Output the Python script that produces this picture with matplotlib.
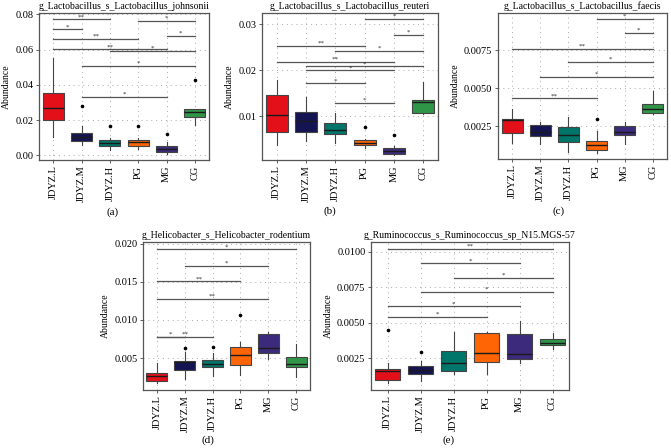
import matplotlib.pyplot as plt

plt.rcParams["font.family"] = ["Liberation Serif", "DejaVu Serif"]

GROUPS = ["JDYZ.L", "JDYZ.M", "JDYZ.H", "PG", "MG", "CG"]
BOX_COLORS = ["#e3101a", "#141452", "#00766a", "#ff6505", "#3c2b7c", "#2f9648"]

# (a) Lactobacillus johnsonii
JOHNSONII_LO = [0.0103, 0.0061, 0.0032, 0.0036, 0.0008, 0.0171]
JOHNSONII_Q1 = [0.0199, 0.0084, 0.0051, 0.0053, 0.0021, 0.0217]
JOHNSONII_MED = [0.0269, 0.0105, 0.0070, 0.0074, 0.0036, 0.0248]
JOHNSONII_Q3 = [0.0352, 0.0126, 0.0086, 0.0086, 0.0051, 0.0263]
JOHNSONII_HI = [0.0550, 0.0166, 0.0099, 0.0099, 0.0076, 0.0263]
JOHNSONII_OUT = [[], [0.0278], [0.0168], [0.0168], [0.0124], [0.0429]]
JOHNSONII_SIG = [(0, 2, 0.0772, "**"), (0, 1, 0.0714, "*"), (3, 5, 0.0762, "*"),
                 (0, 3, 0.0661, "**"), (4, 5, 0.0676, "*"), (0, 4, 0.0602, "**"),
                 (2, 5, 0.0591, "*"), (1, 5, 0.0509, "*"), (1, 4, 0.0331, "*")]

# (b) Lactobacillus reuteri
REUTERI_LO = [0.0038, 0.0046, 0.0043, 0.0032, 0.0016, 0.0106]
REUTERI_Q1 = [0.0067, 0.0067, 0.0061, 0.0038, 0.0018, 0.0107]
REUTERI_MED = [0.0104, 0.0090, 0.0070, 0.0043, 0.0024, 0.0132]
REUTERI_Q3 = [0.0146, 0.0109, 0.0085, 0.0049, 0.0031, 0.0135]
REUTERI_HI = [0.0179, 0.0143, 0.0107, 0.0050, 0.0036, 0.0174]
REUTERI_OUT = [[], [], [], [0.0077], [0.0059], []]
REUTERI_SIG = [(3, 5, 0.0312, "*"), (4, 5, 0.0277, "*"), (0, 3, 0.0253, "**"),
               (2, 5, 0.0243, "*"), (0, 4, 0.0218, "**"), (1, 5, 0.0209, "*"),
               (1, 4, 0.0200, "*"), (1, 3, 0.0172, "*"), (2, 4, 0.0129, "*")]

# (c) Lactobacillus faecis
FAECIS_LO = [0.00140, 0.00134, 0.00080, 0.00075, 0.00136, 0.00333]
FAECIS_Q1 = [0.00206, 0.00189, 0.00145, 0.00092, 0.00195, 0.00340]
FAECIS_MED = [0.00290, 0.00210, 0.00195, 0.00125, 0.00213, 0.00364]
FAECIS_Q3 = [0.00298, 0.00259, 0.00248, 0.00151, 0.00250, 0.00399]
FAECIS_HI = [0.00364, 0.00280, 0.00309, 0.00217, 0.00276, 0.00480]
FAECIS_OUT = [[], [], [], [0.0030], [], []]
FAECIS_SIG = [(3, 5, 0.00958, "*"), (4, 5, 0.00864, "*"), (0, 5, 0.00759, "**"),
              (2, 5, 0.00673, "*"), (1, 5, 0.00575, "*"), (0, 3, 0.00434, "**")]

# (d) Helicobacter rodentium
RODENTIUM_LO = [0.00176, 0.00233, 0.00264, 0.00273, 0.00483, 0.00255]
RODENTIUM_Q1 = [0.00207, 0.00347, 0.00378, 0.00404, 0.00570, 0.00378]
RODENTIUM_MED = [0.00264, 0.00447, 0.00417, 0.00539, 0.00636, 0.00426]
RODENTIUM_Q3 = [0.00312, 0.00460, 0.00478, 0.00644, 0.00819, 0.00517]
RODENTIUM_HI = [0.00430, 0.00580, 0.00570, 0.00710, 0.00846, 0.00680]
RODENTIUM_OUT = [[], [0.00627], [0.00640], [0.01070], [], []]
RODENTIUM_SIG = [(0, 5, 0.01926, "*"), (1, 4, 0.01711, "*"), (0, 3, 0.01506, "**"),
                 (0, 4, 0.01278, "**"), (0, 1, 0.00780, "*"), (0, 2, 0.00780, "**")]

# (e) Ruminococcus sp N15.MGS-57
RUMINO_LO = [0.00075, 0.00087, 0.00136, 0.00141, 0.00214, 0.00317]
RUMINO_Q1 = [0.00093, 0.00136, 0.00163, 0.00223, 0.00245, 0.00340]
RUMINO_MED = [0.00163, 0.00165, 0.00216, 0.00286, 0.00282, 0.00360]
RUMINO_Q3 = [0.00175, 0.00194, 0.00303, 0.00425, 0.00420, 0.00383]
RUMINO_HI = [0.00214, 0.00228, 0.00434, 0.00434, 0.00512, 0.00427]
RUMINO_OUT = [[0.00451], [0.00291], [], [], [], []]
RUMINO_SIG = [(0, 5, 0.0102, "**"), (1, 4, 0.00918, "*"), (2, 5, 0.00817, "*"),
              (1, 5, 0.00718, "*"), (0, 4, 0.00615, "*"), (0, 3, 0.00540, "*")]

W, H = 671, 448


def px(left, right, top, bottom):
    return [left / W, (H - bottom) / H, (right - left) / W, (bottom - top) / H]


def draw_panel(rect, letter, letter_xy, title, lo, q1, med, q3, hi, out, sig,
               ylim, yticks, ylabels):
    ax = fig.add_axes(rect)
    stats = []
    for k in range(len(GROUPS)):
        stats.append(dict(whislo=lo[k], q1=q1[k], med=med[k], q3=q3[k],
                          whishi=hi[k], fliers=out[k]))
    pos = list(range(1, len(GROUPS) + 1))
    bp = ax.bxp(stats, positions=pos, widths=0.75, patch_artist=True, showcaps=False,
                boxprops=dict(edgecolor="#444444", linewidth=0.8),
                whiskerprops=dict(color="#444444", linewidth=0.8),
                medianprops=dict(color="#1a1a1a", linewidth=1.0),
                flierprops=dict(marker="o", markersize=1.6, markerfacecolor="black",
                                markeredgecolor="black"),
                zorder=3)
    for patch, c in zip(bp["boxes"], BOX_COLORS):
        patch.set_facecolor(c)

    for i, j, y, lab in sig:
        ax.plot([i + 1, j + 1], [y, y], color="#555555", linewidth=0.9, zorder=2)
        ax.text((i + j) / 2 + 1, y, lab, ha="center", va="bottom", fontsize=5,
                color="#333333", zorder=4)

    ax.set_xlim(0.5, len(GROUPS) + 0.5)
    ax.set_ylim(*ylim)
    ax.set_xticks(pos)
    ax.set_xticklabels(GROUPS, rotation=90, fontsize=7.5)
    ax.set_yticks(yticks)
    ax.set_yticklabels(ylabels, fontsize=7.5)
    ax.tick_params(length=2, width=0.6, color="#444444", pad=2)
    ax.grid(True, linestyle=(0, (1, 4)), color="#aaaaaa", linewidth=0.7, zorder=0)
    ax.set_axisbelow(True)
    for s in ax.spines.values():
        s.set_color("#555555")
        s.set_linewidth(0.9)
    ax.set_title(title, fontsize=7, pad=3)
    ax.set_ylabel("Abundance", fontsize=7, labelpad=3)
    fig.text(letter_xy[0] / W, 1 - letter_xy[1] / H, letter, ha="center",
             va="center", fontsize=8)
    return ax


fig = plt.figure(figsize=(6.71, 4.48), dpi=100)

draw_panel(px(39, 209, 13, 160), "(a)", (113, 212),
           "g_Lactobacillus_s_Lactobacillus_johnsonii",
           JOHNSONII_LO, JOHNSONII_Q1, JOHNSONII_MED, JOHNSONII_Q3, JOHNSONII_HI,
           JOHNSONII_OUT, JOHNSONII_SIG, (-0.0026, 0.0807),
           [0.0, 0.02, 0.04, 0.06, 0.08], ["0.00", "0.02", "0.04", "0.06", "0.08"])
draw_panel(px(262, 438, 13, 160), "(b)", (330, 211),
           "g_Lactobacillus_s_Lactobacillus_reuteri",
           REUTERI_LO, REUTERI_Q1, REUTERI_MED, REUTERI_Q3, REUTERI_HI,
           REUTERI_OUT, REUTERI_SIG, (0.0005, 0.0325),
           [0.01, 0.02, 0.03], ["0.01", "0.02", "0.03"])
draw_panel(px(498, 667, 13, 159), "(c)", (559, 211),
           "g_Lactobacillus_s_Lactobacillus_faecis",
           FAECIS_LO, FAECIS_Q1, FAECIS_MED, FAECIS_Q3, FAECIS_HI,
           FAECIS_OUT, FAECIS_SIG, (0.00035, 0.00996),
           [0.0025, 0.005, 0.0075], ["0.0025", "0.0050", "0.0075"])
draw_panel(px(143, 310, 242, 390), "(d)", (208, 440),
           "g_Helicobacter_s_Helicobacter_rodentium",
           RODENTIUM_LO, RODENTIUM_Q1, RODENTIUM_MED, RODENTIUM_Q3, RODENTIUM_HI,
           RODENTIUM_OUT, RODENTIUM_SIG, (0.00083, 0.0202),
           [0.005, 0.01, 0.015, 0.02], ["0.005", "0.010", "0.015", "0.020"])
draw_panel(px(371, 569, 242, 390), "(e)", (449, 440),
           "g_Ruminococcus_s_Ruminococcus_sp_N15.MGS-57",
           RUMINO_LO, RUMINO_Q1, RUMINO_MED, RUMINO_Q3, RUMINO_HI,
           RUMINO_OUT, RUMINO_SIG, (0.00026, 0.01068),
           [0.0025, 0.005, 0.0075, 0.01], ["0.0025", "0.0050", "0.0075", "0.0100"])

fig.savefig("out.png", dpi=100)
